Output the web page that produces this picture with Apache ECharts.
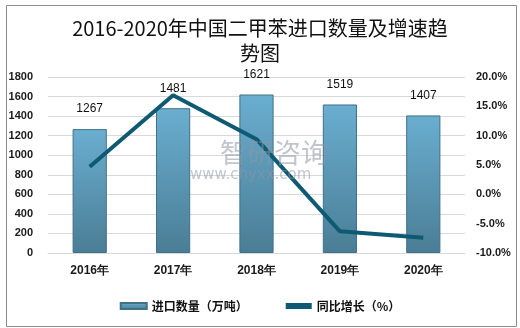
<!DOCTYPE html>
<html>
<head>
<meta charset="utf-8">
<script src="https://cdn.jsdelivr.net/npm/echarts@6/dist/echarts.min.js"></script>
<style>
html,body{margin:0;padding:0;background:#fff;}
#c{width:520px;height:328px;}
</style>
</head>
<body>
<div id="c"></div>
<script>
// Years on the category axis
const years = ['2016年', '2017年', '2018年', '2019年', '2020年'];
// Import volume, 10k tonnes
const importVolume = [1267, 1481, 1621, 1519, 1407];
// Year-on-year growth, %
const yoyGrowth = [4.7, 16.9, 9.4, -6.3, -7.4];

const chart = echarts.init(document.getElementById('c'), null, { renderer: 'canvas' });
const axisText = { color: '#1a1a1a', fontSize: 11, fontWeight: 'bold', fontFamily: 'Liberation Sans, Arial, sans-serif' };

chart.setOption({
  animation: false,
  backgroundColor: '#fff',
  title: {
    text: '2016-2020年中国二甲苯进口数量及增速趋\n势图',
    left: 'center',
    top: 11,
    textStyle: { fontFamily: 'Noto Sans CJK SC', fontSize: 20, fontWeight: 'normal', color: '#111', lineHeight: 25 }
  },
  grid: { left: 48, right: 55, top: 77, bottom: 75 },
  legend: {
    bottom: 11,
    left: 'center',
    itemGap: 38,
    itemWidth: 26,
    itemHeight: 6,
    textStyle: { fontFamily: 'Noto Sans CJK SC', fontSize: 12, fontWeight: 'bold', color: '#111' },
    data: [
      { name: '进口数量（万吨）', icon: 'rect' },
      { name: '同比增长（%）', icon: 'rect' }
    ]
  },
  xAxis: {
    type: 'category',
    data: years,
    axisLine: { show: true, lineStyle: { color: '#d9d9d9' } },
    axisTick: { show: false },
    axisLabel: Object.assign({}, axisText, { margin: 12, fontSize: 12 })
  },
  yAxis: [
    {
      type: 'value', min: 0, max: 1800, interval: 200,
      axisLine: { show: false }, axisTick: { show: false },
      splitLine: { lineStyle: { color: '#d9d9d9' } },
      axisLabel: Object.assign({}, axisText, { margin: 15, formatter: v => String(v) })
    },
    {
      type: 'value', min: -10, max: 20, interval: 5,
      axisLine: { show: false }, axisTick: { show: false },
      splitLine: { show: false },
      axisLabel: Object.assign({}, axisText, { margin: 11, formatter: v => v.toFixed(1) + '%' })
    }
  ],
  series: [
    {
      name: '进口数量（万吨）',
      type: 'bar',
      data: importVolume,
      barWidth: '41%',
      itemStyle: {
        color: new echarts.graphic.LinearGradient(0, 0, 0, 1, [
          { offset: 0, color: '#6aaed0' },
          { offset: 1, color: '#4a7d95' }
        ]),
        borderColor: '#3f7189',
        borderWidth: 1
      },
      label: {
        show: true, position: 'top', distance: 14,
        color: '#111', fontSize: 12, fontFamily: 'Liberation Sans, Arial, sans-serif'
      },
      z: 2
    },
    {
      name: '同比增长（%）',
      type: 'line',
      yAxisIndex: 1,
      data: yoyGrowth,
      symbol: 'none',
      lineStyle: { color: '#0d5a72', width: 4 },
      itemStyle: { color: '#0d5a72' },
      z: 3
    }
  ],
  graphic: [
    {
      type: 'rect', left: 4, top: 3, z: 100, silent: true,
      shape: { width: 510, height: 321 },
      style: { fill: 'none', stroke: '#8c8c8c', lineWidth: 1 }
    },
    {
      type: 'text', left: 220, top: 139, z: 50, silent: true,
      style: { text: '智研咨询', fill: 'rgba(140,150,165,0.55)', fontSize: 27, fontFamily: 'Noto Sans CJK SC' }
    },
    {
      type: 'text', left: 190, top: 168, z: 50, silent: true,
      style: { text: 'www.chyxx.com', fill: 'rgba(140,150,165,0.55)', fontSize: 15, fontFamily: 'DejaVu Sans' }
    }
  ]
});
</script>
</body>
</html>
